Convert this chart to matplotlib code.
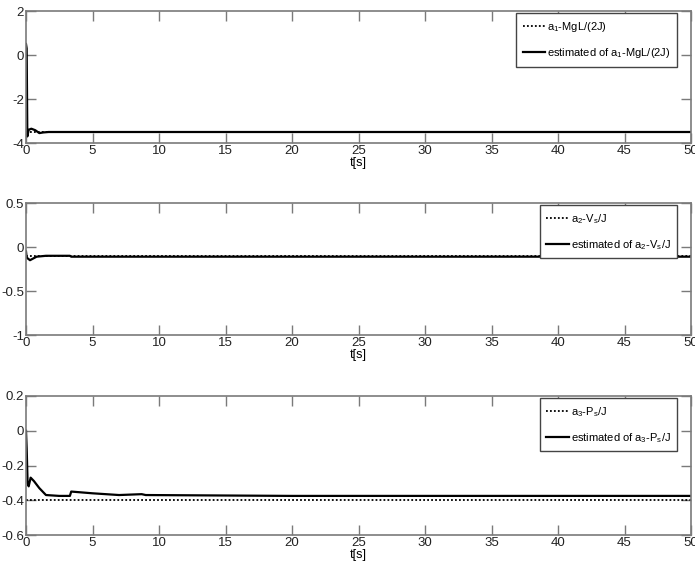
import matplotlib
matplotlib.use("Agg")
import matplotlib.pyplot as plt

# ---- data ----
t1_est = [0.0, 0.05, 0.1, 0.2, 0.4, 0.7, 1.0, 1.3, 1.7, 50.0]
y1_est = [0.5, 0.3, -3.7, -3.4, -3.35, -3.42, -3.55, -3.52, -3.5, -3.5]
t1_true = [0.0, 50.0]
y1_true = [-3.5, -3.5]

t2_est = [0.0, 0.05, 0.3, 0.8, 1.5, 3.3, 3.4, 50.0]
y2_est = [-0.05, -0.12, -0.15, -0.11, -0.1, -0.1, -0.11, -0.11]
t2_true = [0.0, 50.0]
y2_true = [-0.1, -0.1]

t3_est = [0.0, 0.05, 0.12, 0.2, 0.35, 0.6, 1.0, 1.5, 2.5, 3.3, 3.4, 5.0, 7.0, 8.7, 9.0, 20.0, 50.0]
y3_est = [0.0, -0.1, -0.3, -0.32, -0.27, -0.29, -0.33, -0.37, -0.375, -0.375, -0.35, -0.36, -0.37, -0.365, -0.37, -0.375, -0.375]
t3_true = [0.0, 50.0]
y3_true = [-0.4, -0.4]

ylims = [(-4, 2), (-1, 0.5), (-0.6, 0.2)]
yticks = [[-4, -2, 0, 2], [-1, -0.5, 0, 0.5], [-0.6, -0.4, -0.2, 0, 0.2]]
ytick_labels = [["-4", "-2", "0", "2"], ["-1", "-0.5", "0", "0.5"],
                ["-0.6", "-0.4", "-0.2", "0", "0.2"]]
xticks = [0, 5, 10, 15, 20, 25, 30, 35, 40, 45, 50]
labels_true = [r"a$_1$-MgL/(2J)", r"a$_2$-V$_s$/J", r"a$_3$-P$_s$/J"]
labels_est = [r"estimated of a$_1$-MgL/(2J)", r"estimated of a$_2$-V$_s$/J",
              r"estimated of a$_3$-P$_s$/J"]
xlabel = "t[s]"

series = [(t1_true, y1_true, t1_est, y1_est),
          (t2_true, y2_true, t2_est, y2_est),
          (t3_true, y3_true, t3_est, y3_est)]

fam = "Liberation Sans"
plt.rcParams["font.family"] = [fam, "DejaVu Sans"]
plt.rcParams["mathtext.fontset"] = "custom"
plt.rcParams["mathtext.rm"] = fam
plt.rcParams["mathtext.it"] = fam
plt.rcParams["mathtext.default"] = "rm"

fig = plt.figure(figsize=(6.95, 5.79), dpi=100)
W, H = 695, 579
boxes = [(26, 11, 665, 132), (26, 203, 665, 132), (26, 396, 665, 139)]
axcol = "#7a7a7a"

for i, (box, (tt, yt, te, ye)) in enumerate(zip(boxes, series)):
    x0, ytop, w, h = box
    ax = fig.add_axes([x0 / W, 1 - (ytop + h) / H, w / W, h / H])
    lt, = ax.plot(tt, yt, color="black", linestyle=(0, (1, 1.2)), linewidth=1.3)
    le, = ax.plot(te, ye, color="black", linewidth=1.6)
    ax.set_xlim(0, 50)
    ax.set_ylim(*ylims[i])
    ax.set_xticks(xticks)
    ax.set_yticks(yticks[i])
    ax.set_yticklabels(ytick_labels[i])
    ax.tick_params(direction="in", top=True, right=True, length=7, width=1,
                   color=axcol, labelsize=9.5, pad=1.5, labelcolor="#222222")
    for s in ax.spines.values():
        s.set_color(axcol)
        s.set_linewidth(1.2)
    ax.set_xlabel(xlabel, fontsize=9, labelpad=0)
    leg = ax.legend([lt, le], [labels_true[i], labels_est[i]], loc="upper right",
                    bbox_to_anchor=(0.983, 1.0), fontsize=8, frameon=True,
                    fancybox=False, edgecolor="#444444", framealpha=1,
                    handlelength=2.0, handletextpad=0.2, borderpad=0.6,
                    borderaxespad=0.2, labelspacing=1.1)
    leg.get_frame().set_linewidth(1.0)

fig.savefig("out.png", dpi=100)
